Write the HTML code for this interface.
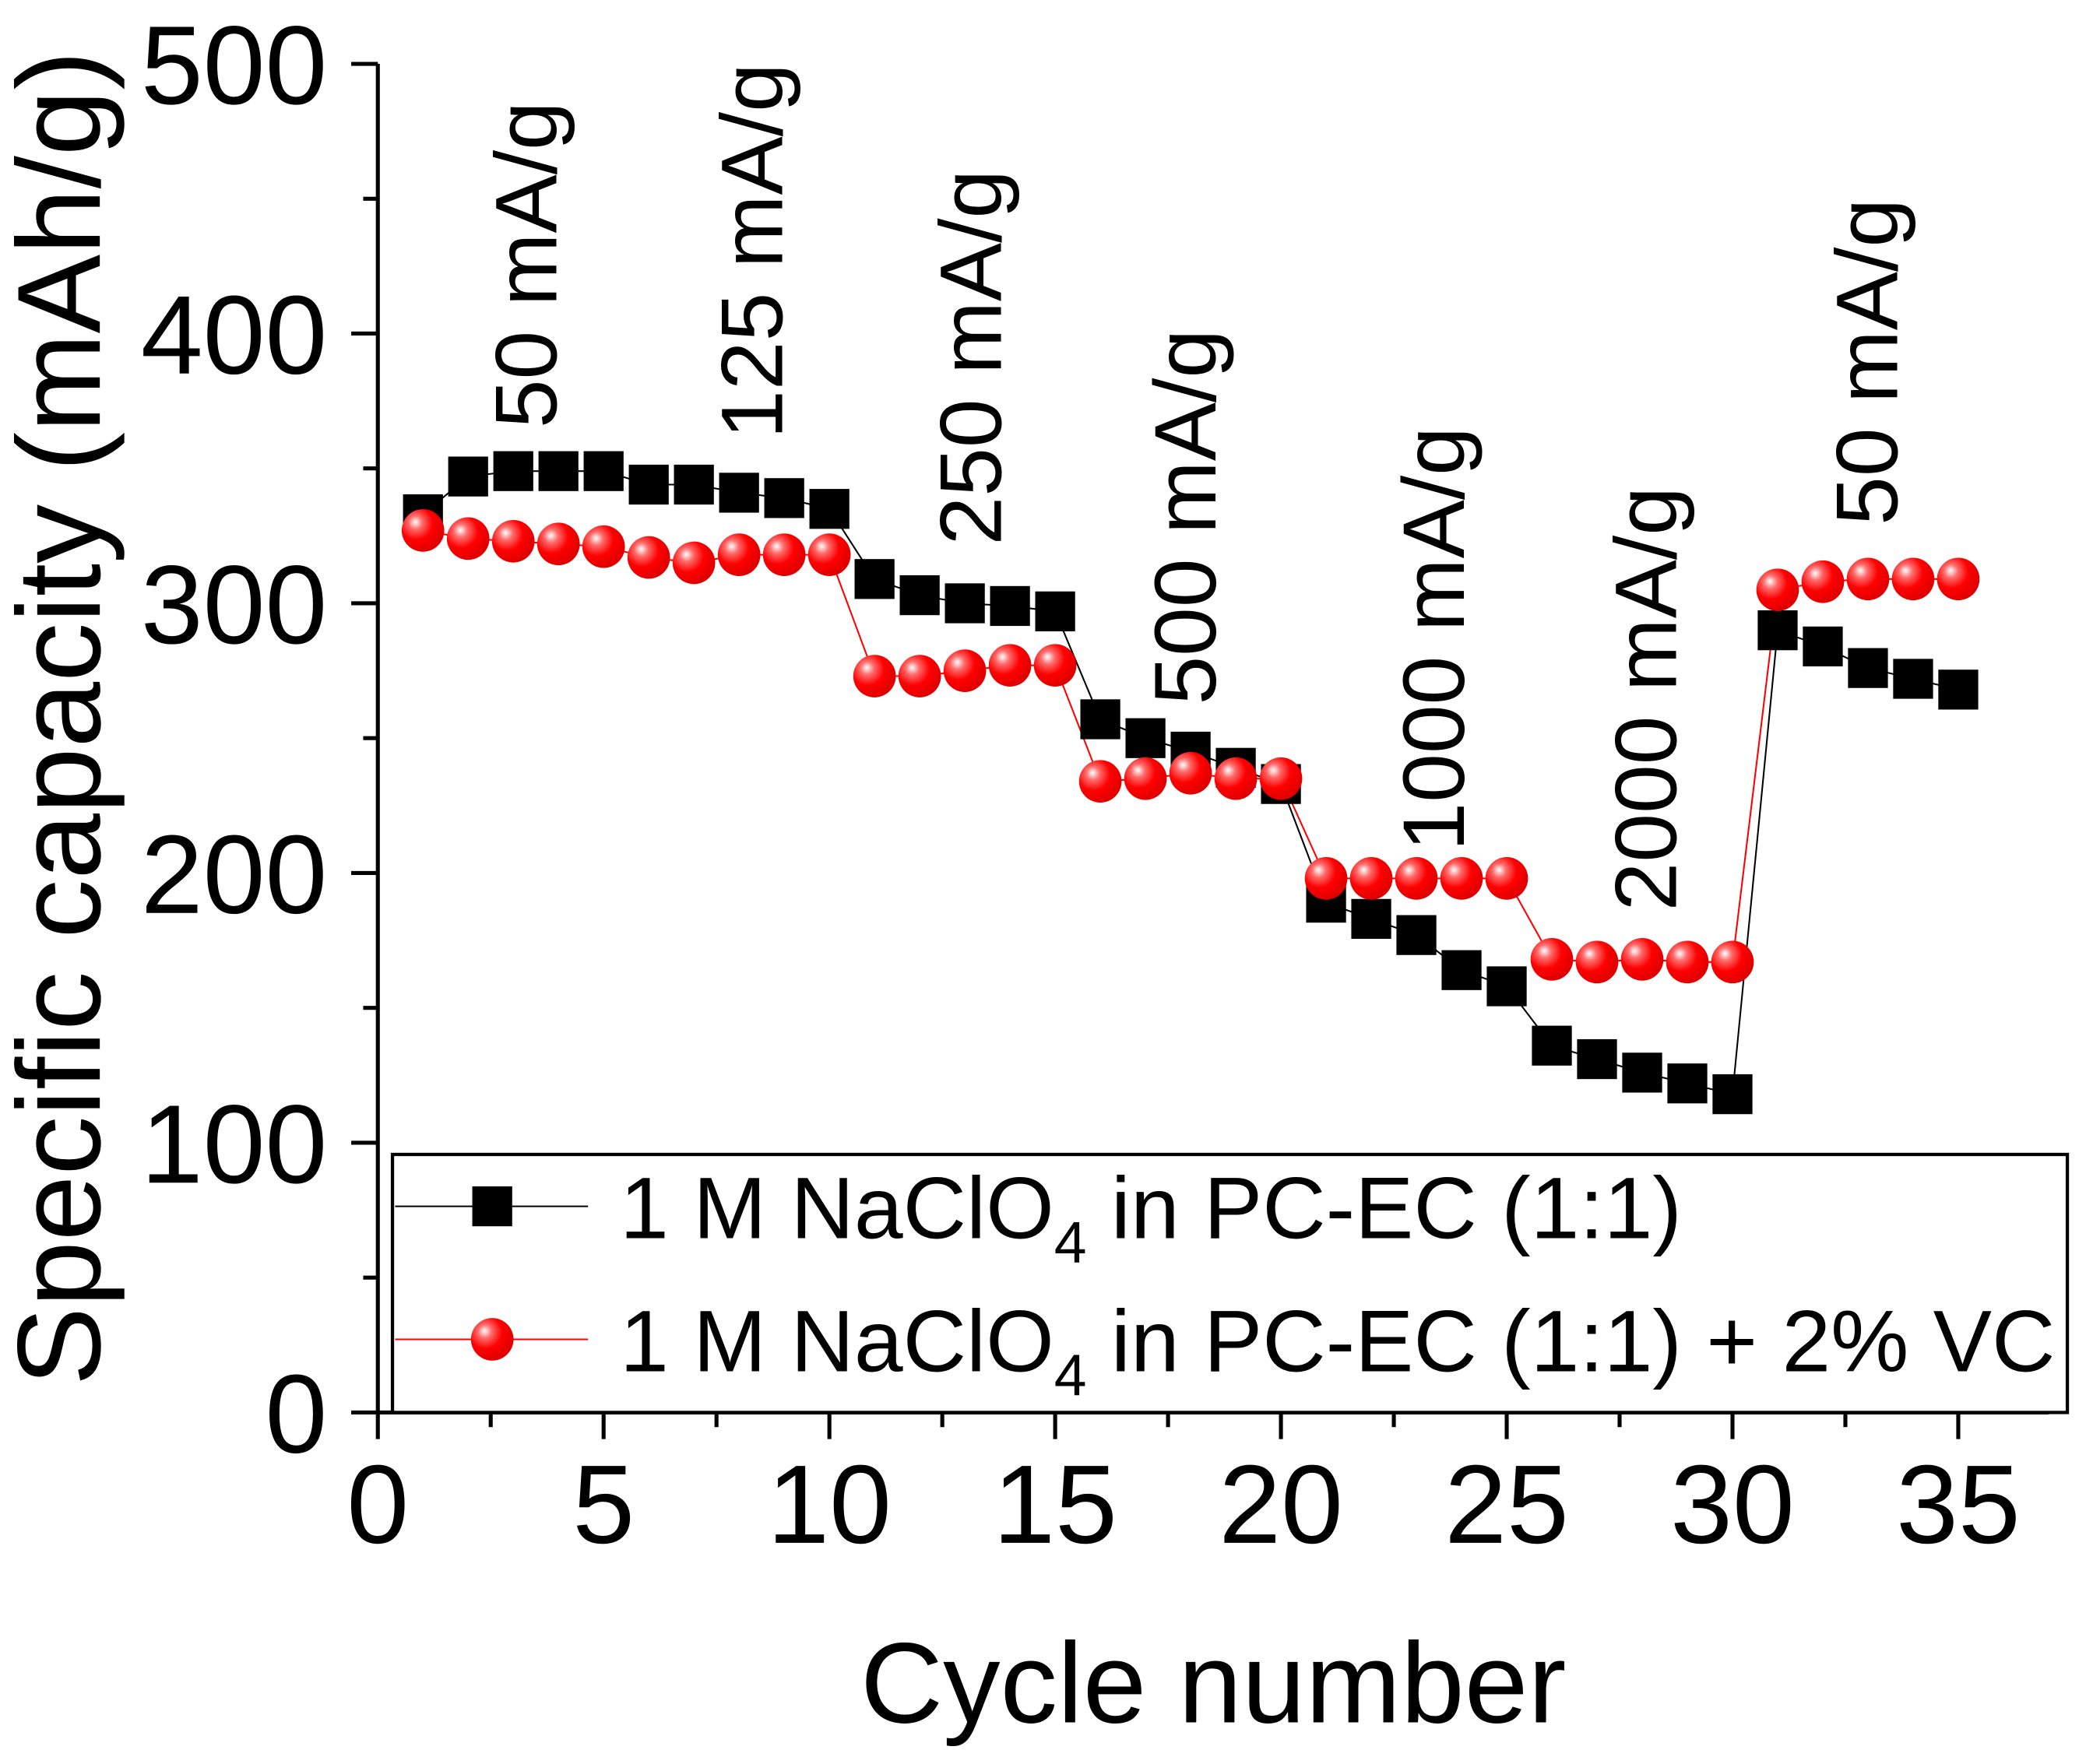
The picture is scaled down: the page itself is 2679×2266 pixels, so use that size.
<!DOCTYPE html>
<html><head><meta charset="utf-8"><style>html,body{margin:0;padding:0;background:#fff}svg{display:block}text{font-family:"Liberation Sans",Arial,sans-serif;fill:#000}</style></head>
<body>
<svg id="chart" width="2679" height="2266" viewBox="0 0 1568 1326.3" xmlns="http://www.w3.org/2000/svg">
<defs>
<radialGradient id="ball" cx="0.35" cy="0.35" r="0.65" fx="0.32" fy="0.3">
<stop offset="0" stop-color="#fff"/><stop offset="0.25" stop-color="#ff6a6a"/><stop offset="0.6" stop-color="#f00"/><stop offset="1" stop-color="#e00000"/>
</radialGradient>
</defs>
<g id="axes"></g>
<g id="series"></g>
<g id="annot"></g>
<g id="legend"></g>
</svg>
<script>
const cycles=[1,2,3,4,5,6,7,8,9,10,11,12,13,14,15,16,17,18,19,20,21,22,23,24,25,26,27,28,29,30,31,32,33,34,35];
const blackVals=[333,347,349,349,349,344,344,341,339,335,309,303,300,299,297,257,250,245,239,233,189,183,177,164,158,136,131,126,122,118,290,284,276,272,268];
const redVals=[327,324,323,322,321,317,315,318,318,318,273,273,275,277,277,234,235,237,235,235,198,198,198,198,198,168,167,168,167,167,305,308,309,309,309];
const xTicks=[0,5,10,15,20,25,30,35];
const yTicks=[0,100,200,300,400,500];
const rateLabels=["50 mA/g","125 mA/g","250 mA/g","500 mA/g","1000 mA/g","2000 mA/g","50 mA/g"];
const ratePos=[[3.95,322],[8.95,330],[13.8,410],[18.55,530],[24.05,640],[28.75,685],[33.65,395]];

const NS="http://www.w3.org/2000/svg";
const X=v=>284+v*(1472-284)/35;
const Y=v=>1062-v*(1062-48)/500;
function mk(tag,attrs,parent,txt){const e=document.createElementNS(NS,tag);for(const k in attrs)e.setAttribute(k,attrs[k]);if(txt!==undefined)e.textContent=txt;parent.appendChild(e);return e;}
const axes=document.getElementById('axes'),series=document.getElementById('series'),annot=document.getElementById('annot'),legend=document.getElementById('legend');

let e;
e=mk('line',{x1:X(0),y1:Y(500),x2:X(0),y2:Y(0)+1.5,stroke:'#000','stroke-width':3},axes);

e=mk('line',{x1:X(0)-1.5,y1:Y(0),x2:1540,y2:Y(0),stroke:'#000','stroke-width':3},axes);

yTicks.forEach(v=>{
  e=mk('line',{x1:X(0)-20,y1:Y(v),x2:X(0),y2:Y(v),stroke:'#000','stroke-width':3},axes);
  
  e=mk('text',{x:246,y:Y(v)+30,'text-anchor':'end','font-size':84},axes,String(v));
  
  if(v<500){e=mk('line',{x1:X(0)-11,y1:Y(v+50),x2:X(0),y2:Y(v+50),stroke:'#000','stroke-width':3},axes);
  }
});
xTicks.forEach(v=>{
  e=mk('line',{x1:X(v),y1:Y(0),x2:X(v),y2:Y(0)+20,stroke:'#000','stroke-width':3},axes);
  
  e=mk('text',{x:X(v),y:1160,'text-anchor':'middle','font-size':84},axes,String(v));
  
  if(v<35){e=mk('line',{x1:X(v+2.5),y1:Y(0),x2:X(v+2.5),y2:Y(0)+11,stroke:'#000','stroke-width':3},axes);
  }
});
e=mk('text',{x:912,y:1295,'text-anchor':'middle','font-size':86},axes,'Cycle number');

e=mk('text',{x:75,y:540,'text-anchor':'middle','font-size':89,transform:'rotate(-90 75 540)'},axes,'Specific capacity (mAh/g)');


e=mk('polyline',{points:cycles.map((c,i)=>X(c)+','+Y(blackVals[i])).join(' '),fill:'none',stroke:'#000','stroke-width':1.2},series);

e=mk('polyline',{points:cycles.map((c,i)=>X(c)+','+Y(redVals[i])).join(' '),fill:'none',stroke:'#f00','stroke-width':1.2},series);

cycles.forEach((c,i)=>{
  e=mk('rect',{x:X(c)-15,y:Y(blackVals[i])-15,width:30,height:30,fill:'#000'},series);
  
});
cycles.forEach((c,i)=>{
  e=mk('circle',{cx:X(c),cy:Y(redVals[i]),r:16,fill:'url(#ball)'},series);
  
});

rateLabels.forEach((t,i)=>{
  const x=X(ratePos[i][0]),y=ratePos[i][1];
  e=mk('text',{x:x,y:y,'font-size':66,transform:'rotate(-90 '+x+' '+y+')'},annot,t);
  
});

e=mk('rect',{x:295,y:868,width:1259,height:194,fill:'#fff',stroke:'#000','stroke-width':2.5},legend);

e=mk('line',{x1:297,y1:907,x2:442,y2:907,stroke:'#000','stroke-width':1.2},legend);

e=mk('rect',{x:355,y:892,width:30,height:30,fill:'#000'},legend);

e=mk('line',{x1:297,y1:1007,x2:442,y2:1007,stroke:'#f00','stroke-width':1.2},legend);

e=mk('circle',{cx:370,cy:1007,r:16,fill:'url(#ball)'},legend);

e=mk('text',{x:466,y:931,'font-size':66},legend);

e.innerHTML='1 M NaClO<tspan dy="18" font-size="44">4</tspan><tspan dy="-18"> in PC-EC (1:1)</tspan>';
e=mk('text',{x:466,y:1031,'font-size':66},legend);

e.innerHTML='1 M NaClO<tspan dy="18" font-size="44">4</tspan><tspan dy="-18"> in PC-EC (1:1) + 2% VC</tspan>';
</script>
</body></html>
